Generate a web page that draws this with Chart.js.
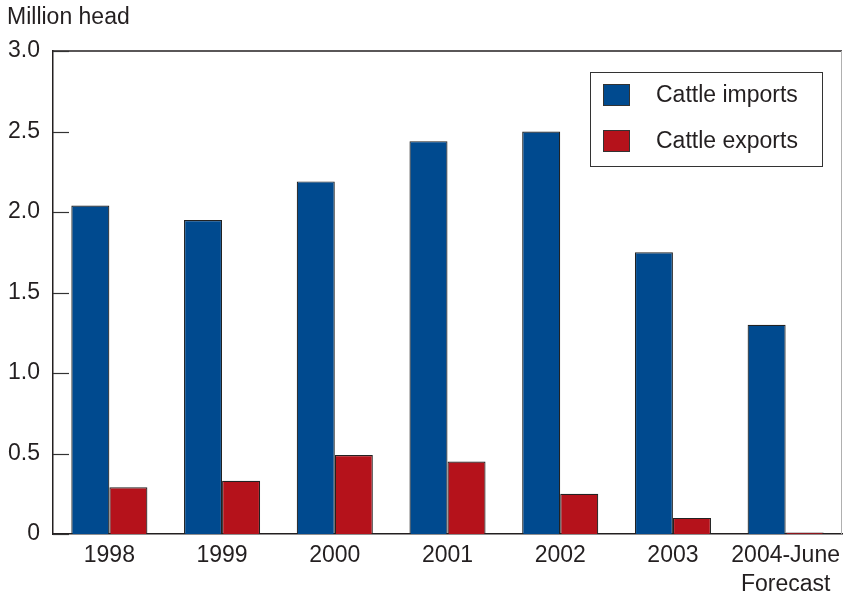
<!DOCTYPE html>
<html>
<head>
<meta charset="utf-8">
<title>Cattle imports and exports</title>
<script src="https://cdn.jsdelivr.net/npm/chart.js@4/dist/chart.umd.min.js"></script>
<style>
  html, body { margin: 0; padding: 0; background: #fff; }
  #wrap { width: 843px; height: 596px; position: relative; }
</style>
</head>
<body>
<div id="wrap"><canvas id="chart" width="843" height="596"></canvas></div>
<script>
// Years on the x axis; the last one is a forecast
const categories = ["1998", "1999", "2000", "2001", "2002", "2003", ["2004-June", "Forecast"]];

// Million head
const cattleImports = [2.04, 1.95, 2.19, 2.44, 2.50, 1.75, 1.30];
const cattleExports = [0.29, 0.33, 0.49, 0.45, 0.25, 0.10, 0.01];

const yTicks = [0, 0.5, 1.0, 1.5, 2.0, 2.5, 3.0];
const yUnit = "Million head";

const FONT = '"Liberation Sans", Arial, Helvetica, sans-serif';
const FONT_SIZE = 23;
const TEXT = "#231f20";
const BLUE = "#004a8f";
const RED = "#b5121b";

// Frame, inward tick marks, unit label and boxed legend
const decorations = {
  id: "decorations",
  afterDraw(chart) {
    const ctx = chart.ctx;
    const a = chart.chartArea;
    const y = chart.scales.y;
    ctx.save();

    // top and right sides of the frame
    ctx.lineWidth = 1.5;
    ctx.strokeStyle = TEXT;
    ctx.beginPath();
    ctx.moveTo(a.left, a.top);
    ctx.lineTo(a.right, a.top);
    ctx.stroke();
    ctx.strokeStyle = "#b0b0b0";
    ctx.lineWidth = 1;
    ctx.beginPath();
    ctx.moveTo(a.right - 0.5, a.top);
    ctx.lineTo(a.right - 0.5, a.bottom);
    ctx.stroke();

    // tick marks pointing into the plot
    ctx.strokeStyle = "#333";
    ctx.lineWidth = 1.2;
    yTicks.forEach(v => {
      const py = Math.round(y.getPixelForValue(v)) + 0.5;
      ctx.beginPath();
      ctx.moveTo(a.left, py);
      ctx.lineTo(a.left + 16, py);
      ctx.stroke();
    });

    // unit label
    ctx.fillStyle = TEXT;
    ctx.font = FONT_SIZE + "px " + FONT;
    ctx.textAlign = "left";
    ctx.textBaseline = "middle";
    ctx.fillText(yUnit, 7, 18);

    // legend box
    const lx = 590, ly = 72, lw = 232, lh = 94;
    ctx.strokeStyle = "#333";
    ctx.lineWidth = 1;
    ctx.strokeRect(lx + 0.5, ly + 0.5, lw, lh);
    chart.data.datasets.forEach((ds, i) => {
      const rowY = ly + 23 + i * 46;
      ctx.fillStyle = ds.backgroundColor;
      ctx.fillRect(603, rowY - 11, 27, 22);
      ctx.strokeStyle = "#333";
      ctx.strokeRect(603.5, rowY - 10.5, 26, 21);
      ctx.fillStyle = TEXT;
      ctx.font = FONT_SIZE + "px " + FONT;
      ctx.textBaseline = "middle";
      ctx.fillText(ds.label, 656, rowY + 1);
    });

    ctx.restore();
  }
};

new Chart(document.getElementById("chart"), {
  type: "bar",
  data: {
    labels: categories,
    datasets: [
      {
        label: "Cattle imports",
        data: cattleImports,
        backgroundColor: BLUE,
        borderColor: "#222",
        borderWidth: 1.2,
        borderSkipped: "start"
      },
      {
        label: "Cattle exports",
        data: cattleExports,
        backgroundColor: RED,
        borderColor: "#222",
        borderWidth: 1.2,
        borderSkipped: "start"
      }
    ]
  },
  options: {
    responsive: false,
    animation: false,
    devicePixelRatio: 1,
    layout: { autoPadding: false, padding: { top: 51, right: 1, left: 0, bottom: 0 } },
    datasets: { bar: { categoryPercentage: 0.675, barPercentage: 1.0 } },
    plugins: {
      legend: { display: false },
      tooltip: { enabled: false },
      title: { display: false }
    },
    scales: {
      x: {
        grid: { display: false, drawTicks: false },
        border: { display: true, color: TEXT, width: 1.5 },
        ticks: {
          color: TEXT,
          font: { family: FONT, size: FONT_SIZE, lineHeight: 1.23 },
          padding: 8,
          maxRotation: 0,
          autoSkip: false
        },
        afterFit(scale) {
          scale.height = 62;
          scale.paddingLeft = 0;
          scale.paddingRight = 0;
        }
      },
      y: {
        min: 0,
        max: 3,
        afterBuildTicks(scale) { scale.ticks = yTicks.map(v => ({ value: v })); },
        grid: { display: false, drawTicks: false },
        border: { display: true, color: TEXT, width: 1.5 },
        ticks: {
          color: TEXT,
          font: { family: FONT, size: FONT_SIZE },
          padding: 13,
          callback: v => (v === 0 ? "0" : Number(v).toFixed(1))
        },
        afterFit(scale) { scale.width = 53; }
      }
    }
  },
  plugins: [decorations]
});
</script>
</body>
</html>
